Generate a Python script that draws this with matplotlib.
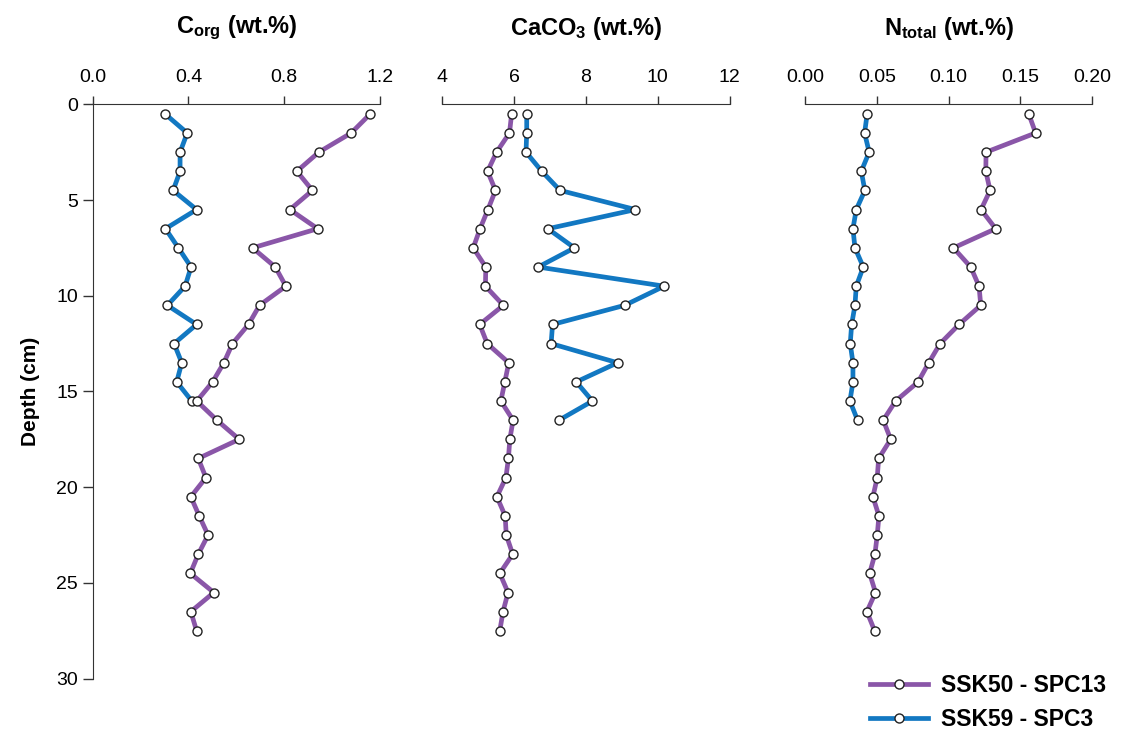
import matplotlib
matplotlib.use("Agg")
import matplotlib.pyplot as plt
from matplotlib.lines import Line2D

plt.rcParams['font.family'] = ['Liberation Sans', 'DejaVu Sans']
plt.rcParams['mathtext.default'] = 'regular'

# depths (cm) of the samples
depth_50 = [0.5 + i for i in range(28)]
depth_59_corg = [0.5 + i for i in range(16)]
depth_59 = [0.5 + i for i in range(17)]

# SSK50 - SPC13
corg_50 = [1.16, 1.08, 0.945, 0.853, 0.918, 0.824, 0.940, 0.668, 0.763, 0.807,
           0.697, 0.651, 0.584, 0.548, 0.501, 0.435, 0.519, 0.612, 0.441, 0.473,
           0.410, 0.445, 0.482, 0.441, 0.408, 0.506, 0.410, 0.434]
caco3_50 = [5.93, 5.87, 5.51, 5.26, 5.48, 5.27, 5.05, 4.86, 5.21, 5.20,
            5.70, 5.04, 5.25, 5.85, 5.74, 5.63, 5.97, 5.88, 5.84, 5.77,
            5.52, 5.75, 5.78, 5.96, 5.60, 5.83, 5.69, 5.60]
ntot_50 = [0.1558, 0.1606, 0.1261, 0.1259, 0.1289, 0.1226, 0.1328, 0.1034, 0.1154, 0.1212,
           0.1224, 0.1073, 0.0941, 0.0862, 0.0788, 0.0631, 0.0545, 0.0597, 0.0513, 0.0503,
           0.0473, 0.0515, 0.0503, 0.0487, 0.0450, 0.0491, 0.0431, 0.0485]

# SSK59 - SPC3
corg_59 = [0.302, 0.395, 0.365, 0.365, 0.336, 0.434, 0.304, 0.358, 0.411, 0.386,
           0.312, 0.434, 0.340, 0.372, 0.351, 0.414]
caco3_59 = [6.35, 6.35, 6.33, 6.77, 7.28, 9.38, 6.94, 7.68, 6.67, 10.18,
            9.08, 7.07, 7.03, 8.88, 7.73, 8.18, 7.25]
ntot_59 = [0.0433, 0.0415, 0.0447, 0.0392, 0.0417, 0.0357, 0.0334, 0.0348, 0.0406, 0.0357,
           0.0348, 0.0325, 0.0315, 0.0334, 0.0334, 0.0313, 0.0366]

purple = '#8a56a8'
blue = '#1278c2'
line_kw = dict(lw=3.4, marker='o', ms=6.5, mfc='white', mec='#222222', mew=1.0)

fig = plt.figure(figsize=(11.21, 7.38), dpi=100)

panels = [
    (0.0827, corg_59, depth_59_corg, corg_50, (0, 1.2), [0.0, 0.4, 0.8, 1.2], '{:.1f}',
     r'C$_{org}$ (wt.%)'),
    (0.3946, caco3_59, depth_59, caco3_50, (4, 12), [4, 6, 8, 10, 12], '{:d}',
     r'CaCO$_{3}$ (wt.%)'),
    (0.7181, ntot_59, depth_59, ntot_50, (0, 0.2), [0.00, 0.05, 0.10, 0.15, 0.20], '{:.2f}',
     r'N$_{total}$ (wt.%)'),
]

for i, (left, v59, d59, v50, xlim, xt, fmt, title) in enumerate(panels):
    ax = fig.add_axes([left, 0.0804, 0.2562, 0.7783])
    ax.plot(v59, d59, color=blue, **line_kw)
    ax.plot(v50, depth_50, color=purple, **line_kw)
    ax.set_xlim(*xlim)
    ax.set_ylim(30, 0)
    ax.xaxis.tick_top()
    ax.set_xticks(xt)
    ax.set_xticklabels([fmt.format(t) for t in xt])
    ax.tick_params(axis='x', direction='out', length=6, width=1, labelsize=14, pad=7,
                   color='#333333')
    for s in ['right', 'bottom']:
        ax.spines[s].set_visible(False)
    ax.spines['top'].set_color('#333333')
    ax.spines['left'].set_color('#333333')
    if i == 0:
        ax.set_yticks([0, 5, 10, 15, 20, 25, 30])
        ax.tick_params(axis='y', direction='out', length=7, width=1, labelsize=14,
                       color='#333333')
        ax.set_ylabel('Depth (cm)', fontsize=15, fontweight='bold', labelpad=12)
    else:
        ax.spines['left'].set_visible(False)
        ax.set_yticks([])
    fig.text(left + 0.1281, 0.962, title, ha='center', va='center', fontsize=17,
             fontweight='bold')

handles = [Line2D([], [], color=purple, **line_kw), Line2D([], [], color=blue, **line_kw)]
fig.legend(handles, ['SSK50 - SPC13', 'SSK59 - SPC3'], loc='center left',
           bbox_to_anchor=(0.758, 0.048), frameon=False, handlelength=2.5,
           handletextpad=0.6, labelspacing=0.5, prop={'weight': 'bold', 'size': 16.5})

fig.savefig('out.png', dpi=100)
